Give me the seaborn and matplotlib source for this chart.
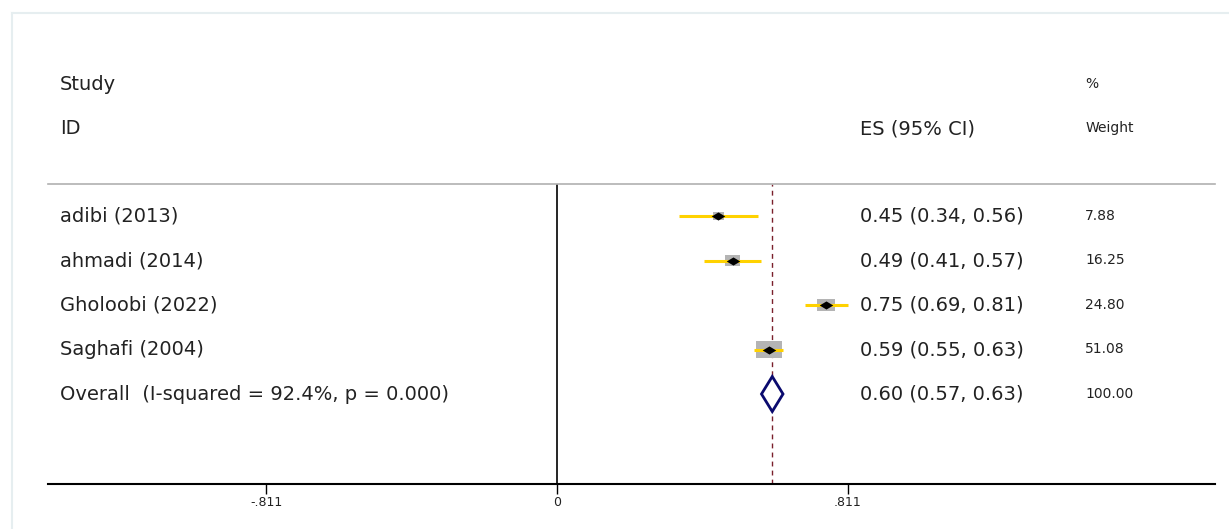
import matplotlib
matplotlib.use("Agg")
import matplotlib.pyplot as plt
import seaborn as sns
import pandas as pd
import numpy as np
from matplotlib.patches import Rectangle, Polygon

sns.set_theme(style="white")
plt.rcParams["font.family"] = ["DejaVu Sans"]

# ─── Data ───────────────────────────────────────────────────────────────────
studies = ["adibi (2013)", "ahmadi (2014)", "Gholoobi (2022)", "Saghafi (2004)"]
es = [0.45, 0.49, 0.75, 0.59]
lower = [0.34, 0.41, 0.69, 0.55]
upper = [0.56, 0.57, 0.81, 0.63]
weights = [7.88, 16.25, 24.80, 51.08]

overall_label = "Overall  (I-squared = 92.4%, p = 0.000)"
overall_es, overall_lo, overall_hi = 0.60, 0.57, 0.63
overall_weight = 100.00

tick_vals = [-0.811, 0, 0.811]
tick_labels = ["-.811", "0", ".811"]

df = pd.DataFrame({"study": studies, "es": es, "lo": lower, "hi": upper, "w": weights})
df["row"] = np.arange(1, len(df) + 1)
overall_row = len(df) + 1

TEXT = "#222222"
YELLOW = "#FFD200"
FS_MAIN = 14
FS_SMALL = 10

# ─── Figure ─────────────────────────────────────────────────────────────────
fig = plt.figure(figsize=(12.29, 5.29), dpi=100)
fig.patch.set_facecolor("white")
# faint frame like the exported graph region
frame = fig.add_axes([12 / 1229, 0, 1 - 12 / 1229, 1 - 13 / 529])
frame.set_xticks([]); frame.set_yticks([])
for s in frame.spines.values():
    s.set_color("#e6eef0")
    s.set_linewidth(1.5)
frame.spines["right"].set_visible(False)
frame.spines["bottom"].set_visible(False)

ax = fig.add_axes([48 / 1229, 45 / 529, 1167 / 1229, 300 / 529])
ax.set_facecolor("none")
ax.set_xlim(-1.4186, 1.834)
ax.set_ylim(7.022, 0.281)

for s in ["left", "right"]:
    ax.spines[s].set_visible(False)
ax.spines["top"].set_color("#b0b0b0")
ax.spines["top"].set_linewidth(1.2)
ax.spines["bottom"].set_color("black")
ax.spines["bottom"].set_linewidth(1.5)

ax.set_xticks(tick_vals)
ax.set_xticklabels(tick_labels, fontsize=9, color=TEXT)
ax.tick_params(axis="x", direction="out", length=7, width=1, color="black", pad=2, bottom=True)
ax.set_yticks([])

# null line and overall line
ax.axvline(0, color="black", lw=1.2, zorder=1)
ax.axvline(overall_es, color="#7a1f2b", lw=1, ls=(0, (3.5, 3)), zorder=1)

# study weight boxes (area ~ weight)
px_x = 358.8  # pixels per x unit
px_y = 44.5   # pixels per row
for _, r in df.iterrows():
    side = 3.5 * np.sqrt(r["w"]) + 1
    bw = side / px_x
    bh = side * 0.67 / px_y
    ax.add_patch(Rectangle((r["es"] - bw / 2, r["row"] - bh / 2), bw, bh,
                           facecolor="#b4b4b4", edgecolor="none", zorder=2))

# confidence intervals
ax.hlines(df["row"], df["lo"], df["hi"], color=YELLOW, lw=2.2, zorder=3)
flat_diamond = [(-1, 0), (0, 0.6), (1, 0), (0, -0.6), (-1, 0)]
sns.scatterplot(data=df, x="es", y="row", marker=flat_diamond, s=95, color="black",
                edgecolor="black", linewidth=0, ax=ax, zorder=4, legend=False)

# overall diamond
dh = 17.5 / px_y
ax.add_patch(Polygon([(overall_lo, overall_row), (overall_es, overall_row - dh),
                      (overall_hi, overall_row), (overall_es, overall_row + dh)],
                     closed=True, facecolor="white", edgecolor="#0a0a6e", lw=2, zorder=4))

ax.set_xlabel("")
ax.set_ylabel("")

# ─── Text columns ───────────────────────────────────────────────────────────
x_lab, x_es, x_w = -1.385, 0.845, 1.472
dy = -0.04
kw = dict(color=TEXT, va="center_baseline", clip_on=False)
ax.text(x_lab, -2, "Study", fontsize=FS_MAIN, **kw)
ax.text(x_lab, -1, "ID", fontsize=FS_MAIN, **kw)
ax.text(x_es, -1, "ES (95% CI)", fontsize=FS_MAIN, **kw)
ax.text(x_w, -2, "%", fontsize=FS_SMALL, **kw)
ax.text(x_w, -1, "Weight", fontsize=FS_SMALL, **kw)

for _, r in df.iterrows():
    ax.text(x_lab, r["row"] + dy, r["study"], fontsize=FS_MAIN, **kw)
    ax.text(x_es, r["row"] + dy, f"{r['es']:.2f} ({r['lo']:.2f}, {r['hi']:.2f})",
            fontsize=FS_MAIN, **kw)
    ax.text(x_w, r["row"] + dy, f"{r['w']:.2f}", fontsize=FS_SMALL, **kw)

ax.text(x_lab, overall_row + dy, overall_label, fontsize=FS_MAIN, **kw)
ax.text(x_es, overall_row + dy, f"{overall_es:.2f} ({overall_lo:.2f}, {overall_hi:.2f})",
        fontsize=FS_MAIN, **kw)
ax.text(x_w, overall_row + dy, f"{overall_weight:.2f}", fontsize=FS_SMALL, **kw)

fig.savefig("out.png", dpi=100, facecolor="white")
